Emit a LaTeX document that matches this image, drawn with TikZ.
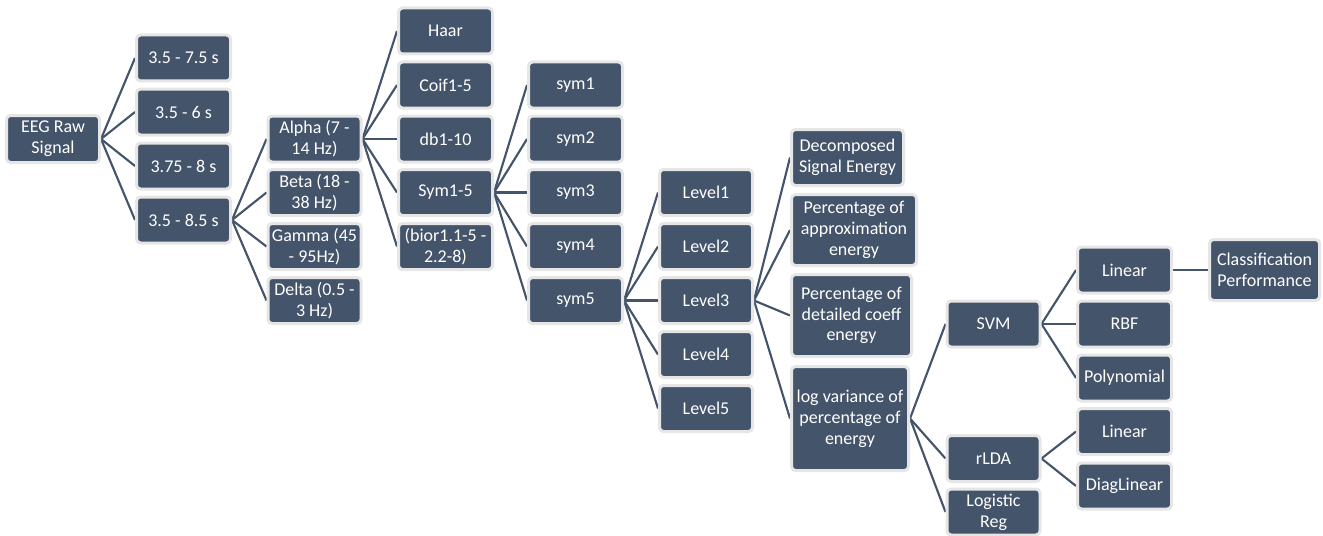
\documentclass[tikz,border=0pt]{standalone}
\usepackage{fontspec}
\setmainfont{Carlito}
\usetikzlibrary{backgrounds}
\definecolor{boxfill}{HTML}{44546A}
\definecolor{boxline}{HTML}{E7E6E6}
\definecolor{conn}{HTML}{44546A}
\tikzset{
  bx/.style={draw=boxline, line width=2.25pt, fill=boxfill, rounded corners=3pt,
    text=white, align=center, inner sep=0pt,
    font=\fontsize{13.5}{15.6}\selectfont},
  sq/.style={bx, minimum width=70.5pt, minimum height=34.5pt},
  cn/.style={draw=conn, line width=1.6pt},
}
\begin{document}
\begin{tikzpicture}[x=0.75pt,y=-0.75pt]
\useasboundingbox (0,0) rectangle (1323,535);
% root
\node[bx, minimum width=69.75pt, minimum height=35.25pt] (eeg) at (53,139) {EEG Raw\\Signal};
% time windows
\node[sq] (t1) at (183.5,58) {3.5 - 7.5 s};
\node[sq] (t2) at (183.5,112) {3.5 - 6 s};
\node[sq] (t3) at (183.5,166) {3.75 - 8 s};
\node[sq] (t4) at (183.5,220) {3.5 - 8.5 s};
% bands
\node[sq, minimum width=69.75pt] (b1) at (314.5,139) {Alpha (7 -\\14 Hz)};
\node[sq, minimum width=69.75pt] (b2) at (314.5,192.5) {Beta (18 -\\38 Hz)};
\node[sq, minimum width=69.75pt] (b3) at (314.5,246.5) {Gamma (45\\- 95Hz)};
\node[sq, minimum width=69.75pt] (b4) at (314.5,300.5) {Delta (0.5 -\\3 Hz)};
% wavelets
\node[sq] (w1) at (445.5,31) {Haar};
\node[sq] (w2) at (445.5,85) {Coif1-5};
\node[sq] (w3) at (445.5,139) {db1-10};
\node[sq] (w4) at (445.5,192.5) {Sym1-5};
\node[sq] (w5) at (445.5,246.5) {(bior1.1-5 -\\2.2-8)};
% sym
\node[sq] (s1) at (575.5,85) {sym1};
\node[sq] (s2) at (575.5,139) {sym2};
\node[sq] (s3) at (575.5,192.5) {sym3};
\node[sq] (s4) at (575.5,246.5) {sym4};
\node[sq] (s5) at (575.5,300.5) {sym5};
% levels
\node[sq, minimum width=69.75pt] (l1) at (706,192.5) {Level1};
\node[sq, minimum width=69.75pt] (l2) at (706,246.5) {Level2};
\node[sq, minimum width=69.75pt] (l3) at (706,300.5) {Level3};
\node[sq, minimum width=69.75pt] (l4) at (706,354.5) {Level4};
\node[sq, minimum width=69.75pt] (l5) at (706,408.5) {Level5};
% features
\node[bx, minimum width=84pt, minimum height=42pt] (f1) at (847.5,157.5) {Decomposed\\Signal Energy};
\node[bx, minimum width=93.75pt, minimum height=53.25pt] (f2) at (854,230) {Percentage of\\approximation\\energy};
\node[bx, minimum width=90pt, minimum height=61.5pt] (f3) at (851.5,315.5) {Percentage of\\detailed coeff\\energy};
\node[bx, minimum width=87.75pt, minimum height=78pt] (f4) at (850,418.5) {log variance of\\percentage of\\energy};
% classifiers
\node[sq, minimum width=69.75pt] (c1) at (993.5,324) {SVM};
\node[sq, minimum width=69.75pt] (c2) at (993.5,458.5) {rLDA};
\node[sq, minimum width=69.75pt] (c3) at (993.5,512) {Logistic\\Reg};
% kernels
\node[sq] (k1) at (1124.5,270) {Linear};
\node[sq] (k2) at (1124.5,324) {RBF};
\node[sq] (k3) at (1124.5,378) {Polynomial};
\node[sq] (k4) at (1124.5,431.5) {Linear};
\node[sq] (k5) at (1124.5,486) {DiagLinear};
% result
\node[bx, minimum width=82.5pt, minimum height=45.75pt] (res) at (1264.5,270) {Classification\\Performance};
\begin{pgfonlayer}{background}
\foreach \c in {t1,t2,t3,t4} \draw[cn] (eeg.east) -- (\c.west);
\foreach \c in {b1,b2,b3,b4} \draw[cn] (t4.east) -- (\c.west);
\foreach \c in {w1,w2,w3,w4,w5} \draw[cn] (b1.east) -- (\c.west);
\foreach \c in {s1,s2,s3,s4,s5} \draw[cn] (w4.east) -- (\c.west);
\foreach \c in {l1,l2,l3,l4,l5} \draw[cn] (s5.east) -- (\c.west);
\foreach \c in {f1,f2,f3,f4} \draw[cn] (l3.east) -- (\c.west);
\foreach \c in {c1,c2,c3} \draw[cn] (f4.east) -- (\c.west);
\foreach \c in {k1,k2,k3} \draw[cn] (c1.east) -- (\c.west);
\foreach \c in {k4,k5} \draw[cn] (c2.east) -- (\c.west);
\draw[cn] (k1.east) -- (res.west);
\end{pgfonlayer}
\end{tikzpicture}
\end{document}
